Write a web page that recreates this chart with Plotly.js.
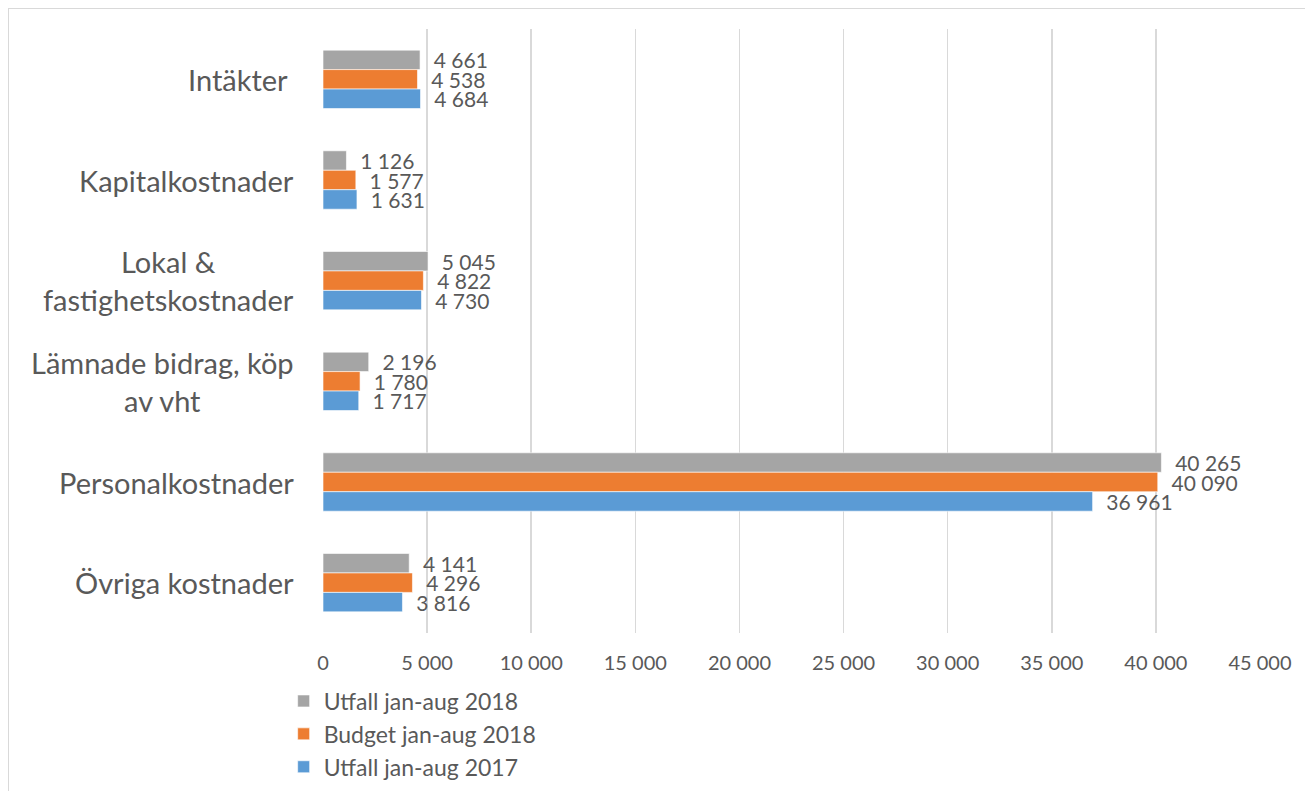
<!DOCTYPE html>
<html>
<head>
<meta charset="utf-8">
<script src="https://cdn.plot.ly/plotly-3.0.1.min.js"></script>
<style>
  html, body { margin: 0; padding: 0; background: #ffffff; }
  #frame { position: absolute; left: 8px; top: 8px; width: 1310px; height: 800px; border: 1px solid #d9d9d9; box-sizing: border-box; }
  #chart { position: absolute; left: 0; top: 0; width: 1305px; height: 791px; }
</style>
</head>
<body>
<div id="frame"></div>
<div id="chart"></div>
<script>
const categories = ["Intäkter ", "Kapitalkostnader", "Lokal &<br>fastighetskostnader", "Lämnade bidrag, köp<br>av vht", "Personalkostnader", "Övriga kostnader"];
const seriesNames = ["Utfall jan-aug 2018", "Budget jan-aug 2018", "Utfall jan-aug 2017"];
const utfall2018 = [4661, 1126, 5045, 2196, 40265, 4141];
const budget2018 = [4538, 1577, 4822, 1780, 40090, 4296];
const utfall2017 = [4684, 1631, 4730, 1717, 36961, 3816];
const tickValues = [0, 5000, 10000, 15000, 20000, 25000, 30000, 35000, 40000, 45000];

const colors = ["#A5A5A5", "#ED7D31", "#5B9BD5"];
const textColor = "#595959";
const fontFamily = "Lato, 'Open Sans', sans-serif";
const seriesValues = [utfall2018, budget2018, utfall2017];

const traces = seriesValues.map((vals, i) => ({
  type: "bar",
  orientation: "h",
  name: seriesNames[i],
  legendgroup: "g" + i,
  x: vals,
  y: categories,
  marker: { color: colors[i], line: { color: "rgba(255,255,255,0.6)", width: 1 } },
  texttemplate: "\u00a0\u00a0%{x:,.0f}",
  textposition: "outside",
  constraintext: "none",
  cliponaxis: false,
  textfont: { family: fontFamily, size: 21, color: textColor },
  hoverinfo: "x+name"
}));

const annotations = categories.map(c => ({
  xref: "paper", yref: "y",
  x: -0.029, y: c,
  text: c.replace(/ $/, "\u00a0"),
  showarrow: false,
  xanchor: "right", yanchor: "middle",
  align: "center",
  font: { family: fontFamily, size: 29, color: textColor }
}));

const layout = {
  width: 1305, height: 791,
  margin: { l: 323, r: 45, t: 29, b: 158, autoexpand: false },
  paper_bgcolor: "rgba(0,0,0,0)",
  plot_bgcolor: "rgba(0,0,0,0)",
  separators: ", ",
  barmode: "group",
  bargap: 0.42,
  bargroupgap: 0,
  font: { family: fontFamily, color: textColor },
  xaxis: {
    range: [0, 45000],
    tickvals: tickValues,
    tickformat: ",d",
    showgrid: true,
    gridcolor: "#d9d9d9",
    gridwidth: 1.5,
    zeroline: false,
    showline: false,
    ticks: "",
    ticklen: 0,
    ticklabelstandoff: 16,
    tickfont: { family: fontFamily, size: 20, color: textColor },
    fixedrange: true
  },
  yaxis: {
    type: "category",
    autorange: "reversed",
    showticklabels: false,
    showgrid: false,
    zeroline: false,
    showline: false,
    ticks: "",
    fixedrange: true
  },
  showlegend: true,
  legend: {
    x: -0.042, xanchor: "left",
    y: -0.077, yanchor: "top",
    traceorder: "grouped",
    tracegroupgap: 0,
    font: { family: fontFamily, size: 23, color: textColor },
    itemwidth: 30,
    bgcolor: "rgba(0,0,0,0)"
  },
  annotations: annotations
};

Plotly.newPlot("chart", traces, layout, { displayModeBar: false, staticPlot: true });
</script>
</body>
</html>
